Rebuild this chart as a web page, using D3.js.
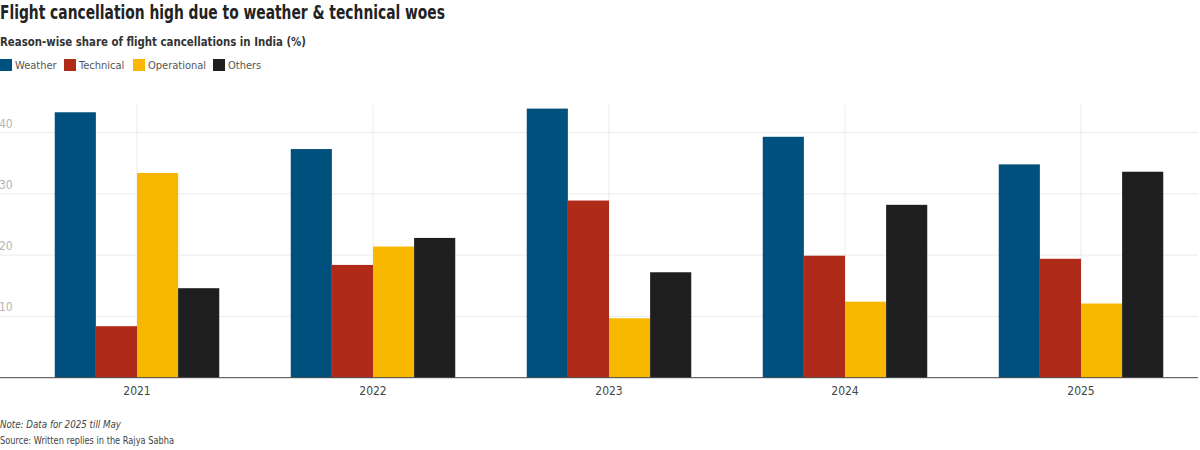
<!DOCTYPE html>
<html>
<head>
<meta charset="utf-8">
<script src="https://cdn.jsdelivr.net/npm/d3@7"></script>
<style>
  body { margin: 0; background: #fff; }
  text { font-family: "DejaVu Sans Condensed", "DejaVu Sans", sans-serif; }
</style>
</head>
<body>
<div id="chart"></div>
<script>
var width = 1200,
    height = 450;

// values (share of cancellations, %)
var years = ["2021", "2022", "2023", "2024", "2025"];
var reasons = ["Weather", "Technical", "Operational", "Others"];
var colors = ["#00507d", "#b02a1a", "#f9b800", "#1e1e1e"];
var weather = [43.3, 37.3, 43.9, 39.3, 34.8];
var technical = [8.4, 18.4, 28.9, 19.9, 19.4];
var operational = [33.4, 21.4, 9.7, 12.4, 12.1];
var others = [14.6, 22.8, 17.2, 28.2, 33.6];
var yTicks = [10, 20, 30, 40];

var series = [weather, technical, operational, others];

var svg = d3.select("#chart").append("svg")
    .attr("width", width)
    .attr("height", height);

var x = d3.scaleBand()
    .domain(years)
    .range([19, 1199])
    .paddingInner(0.303)
    .paddingOuter(0.1515);

var x1 = d3.scaleBand()
    .domain(reasons)
    .range([0, x.bandwidth()]);

var y = d3.scaleLinear()
    .domain([0, 10])
    .range([377.7, 316.4]);

// title block (squeezed to mimic the condensed original face)
svg.append("text")
    .attr("x", 0).attr("y", 19)
    .attr("font-size", 19.5).attr("font-weight", "bold")
    .attr("fill", "#222")
    .attr("textLength", 445).attr("lengthAdjust", "spacingAndGlyphs")
    .text("Flight cancellation high due to weather & technical woes");

svg.append("text")
    .attr("x", 0).attr("y", 45.5)
    .attr("font-size", 12.5).attr("font-weight", "bold")
    .attr("fill", "#333")
    .attr("textLength", 306).attr("lengthAdjust", "spacingAndGlyphs")
    .text("Reason-wise share of flight cancellations in India (%)");

var legend = svg.append("g").attr("transform", "translate(0,59)");
var lx = [0, 64, 133, 213];
reasons.forEach(function(r, i) {
    legend.append("rect")
        .attr("x", lx[i]).attr("y", 0)
        .attr("width", 12).attr("height", 12)
        .attr("fill", colors[i]);
    legend.append("text")
        .attr("x", lx[i] + 15).attr("y", 10)
        .attr("font-size", 11).attr("fill", "#555")
        .text(r);
});

// grid
svg.append("g").selectAll("line.h")
    .data(yTicks)
    .enter().append("line")
    .attr("x1", 0).attr("x2", 1198)
    .attr("y1", function(d) { return y(d); })
    .attr("y2", function(d) { return y(d); })
    .attr("stroke", "#ebebeb");

svg.append("g").selectAll("text")
    .data(yTicks)
    .enter().append("text")
    .attr("x", -1)
    .attr("y", function(d) { return y(d) - 5; })
    .attr("font-size", 12).attr("fill", "#b5b5b5")
    .text(function(d) { return d; });

svg.append("g").selectAll("line")
    .data(years)
    .enter().append("line")
    .attr("x1", function(d) { return x(d) + x.bandwidth() / 2; })
    .attr("x2", function(d) { return x(d) + x.bandwidth() / 2; })
    .attr("y1", 105).attr("y2", y(0))
    .attr("stroke", "#ebebeb");

// bars
years.forEach(function(yr, j) {
    var g = svg.append("g").attr("transform", "translate(" + x(yr) + ",0)");
    g.selectAll("rect")
        .data(series.map(function(s, i) { return { r: reasons[i], v: s[j], c: colors[i] }; }))
        .enter().append("rect")
        .attr("x", function(d) { return x1(d.r); })
        .attr("width", x1.bandwidth())
        .attr("y", function(d) { return y(d.v); })
        .attr("height", function(d) { return y(0) - y(d.v); })
        .attr("fill", function(d) { return d.c; });
});

// x axis
svg.append("line")
    .attr("x1", 0).attr("x2", 1198)
    .attr("y1", y(0)).attr("y2", y(0))
    .attr("stroke", "#444").attr("stroke-width", 1);

svg.append("g").selectAll("text")
    .data(years)
    .enter().append("text")
    .attr("x", function(d) { return x(d) + x.bandwidth() / 2; })
    .attr("y", 395)
    .attr("text-anchor", "middle")
    .attr("font-size", 12).attr("fill", "#444")
    .text(function(d) { return d; });

// notes
svg.append("text")
    .attr("x", 0).attr("y", 428)
    .attr("font-size", 10.5).attr("font-style", "italic")
    .attr("fill", "#444")
    .attr("textLength", 121).attr("lengthAdjust", "spacingAndGlyphs")
    .text("Note: Data for 2025 till May");

svg.append("text")
    .attr("x", 0).attr("y", 444)
    .attr("font-size", 10.5)
    .attr("fill", "#444")
    .attr("textLength", 174).attr("lengthAdjust", "spacingAndGlyphs")
    .text("Source: Written replies in the Rajya Sabha");
</script>
</body>
</html>
